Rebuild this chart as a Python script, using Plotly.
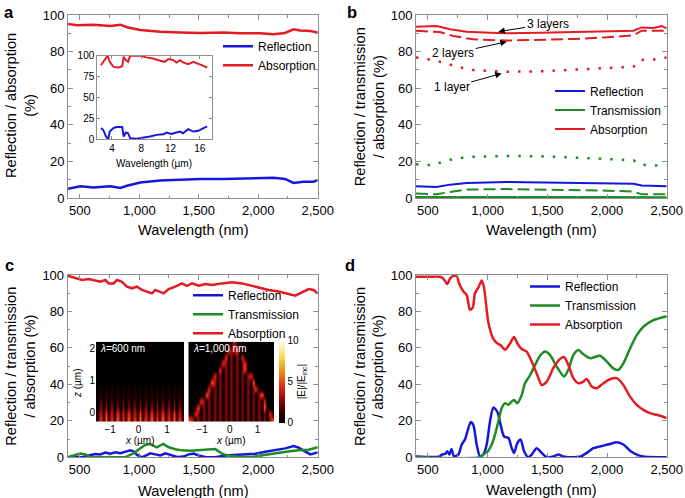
import plotly.graph_objects as go

# ---------------- data ----------------
wl_ticks = [500, 1000, 1500, 2000, 2500]
pct_ticks = [0, 20, 40, 60, 80, 100]

# panel a
a_abs_wl = [400, 476, 616, 756, 840, 896, 1008, 1176, 1344, 1512, 1708, 1848, 2016, 2128, 2226, 2296, 2352, 2436, 2500]
a_abs = [95.1, 94.4, 94.7, 94.0, 94.7, 93.3, 91.8, 90.9, 90.5, 90.2, 90.5, 90.0, 90.0, 89.5, 90.2, 92.2, 91.5, 91.3, 90.5]
a_ref_wl = [400, 504, 616, 756, 840, 896, 1008, 1176, 1344, 1512, 1708, 1848, 2016, 2128, 2226, 2296, 2380, 2464, 2500]
a_ref = [5.1, 6.4, 5.8, 6.4, 5.5, 6.7, 8.5, 9.5, 10.0, 10.4, 10.4, 10.5, 10.7, 11.1, 10.4, 8.2, 8.9, 8.9, 9.8]

# panel a inset (micrometres)
ins_abs_um = [2.5, 2.8, 3.2, 3.4, 3.7, 4.2, 4.9, 5.4, 5.6, 5.9, 6.2, 6.5, 6.9, 7.8, 8.7, 9.6, 10.6, 11.2, 11.7, 12.4, 12.8, 13.3, 13.7, 14.4, 15.1, 15.8, 16.5, 17.0]
ins_abs = [88.6, 92.7, 98.8, 100, 92.7, 86.6, 85.8, 87.4, 98.8, 94.7, 92.7, 100, 100, 100, 98, 96.7, 93.9, 92.7, 95.9, 94.7, 91.9, 94.7, 91.9, 89.8, 92.7, 90.7, 87.8, 85.8]
ins_ref_um = [2.5, 2.8, 3.2, 3.5, 3.7, 4.2, 4.6, 5.4, 5.6, 5.9, 6.2, 6.5, 7.4, 8.3, 9.2, 10.1, 11.0, 11.5, 12.1, 12.8, 13.3, 13.7, 14.4, 15.1, 15.8, 16.5, 17.0]
ins_ref = [13.4, 11.4, 3.3, 0, 9.3, 13.4, 14.6, 14.6, 3.3, 8.1, 7.3, 1.2, 0.8, 2, 3.3, 5.3, 6.1, 8.1, 6.5, 8.1, 9.3, 7.3, 12.2, 9.3, 10.2, 13.4, 15.4]
ins_ticks_x = [4, 8, 12, 16]
ins_ticks_y = [0, 25, 50, 75, 100]

# panel b
b_abs3_wl = [400, 573, 685, 825, 1020, 1160, 1439, 1718, 1998, 2221, 2291, 2389, 2459, 2500]
b_abs3 = [93.6, 94.0, 92.2, 90.9, 90.3, 90.0, 90.3, 90.7, 91.1, 91.4, 93.2, 92.9, 94.0, 92.7]
b_abs2_wl = [400, 601, 713, 880, 1160, 1439, 1718, 1998, 2221, 2291, 2389, 2500]
b_abs2 = [91.4, 90.7, 88.5, 86.7, 86.0, 86.3, 86.9, 87.8, 88.9, 91.4, 91.4, 91.4]
b_abs1_wl = [400, 545, 657, 741, 880, 1160, 1439, 1718, 1998, 2221, 2277, 2389, 2500]
b_abs1 = [76.8, 75.4, 73.5, 71.7, 69.9, 69.0, 69.2, 69.9, 71.0, 71.7, 75.4, 75.7, 76.8]
b_tra1_wl = [400, 545, 657, 825, 1160, 1439, 1718, 1998, 2221, 2277, 2389, 2500]
b_tra1 = [18.4, 17.9, 20.6, 22.4, 23.0, 22.8, 22.1, 21.4, 20.6, 18.2, 17.9, 17.5]
b_ref_wl = [400, 573, 685, 825, 1160, 1439, 1718, 1998, 2221, 2291, 2500]
b_ref = [6.4, 6.0, 7.3, 8.2, 8.8, 8.6, 8.4, 8.0, 7.8, 6.8, 6.4]
b_tra2_wl = [400, 573, 685, 825, 1160, 1439, 1718, 1998, 2221, 2291, 2500]
b_tra2 = [2.4, 2.0, 3.3, 4.6, 4.9, 4.7, 4.4, 4.0, 3.5, 2.0, 2.0]
b_tra3_wl = [400, 1000, 1500, 2000, 2500]
b_tra3 = [0.5, 0.6, 0.6, 0.5, 0.4]

# panel c
c_abs_wl = [400, 464, 520, 576, 632, 674, 716, 744, 786, 814, 856, 898, 940, 982, 1024, 1066, 1108, 1136, 1178, 1206, 1248, 1304, 1360, 1402, 1444, 1500, 1556, 1612, 1696, 1780, 1864, 1920, 2004, 2088, 2172, 2256, 2312, 2368, 2424, 2466, 2500]
c_abs = [99.6, 98.2, 97.3, 97.8, 96.7, 96.3, 97.3, 95.4, 95.4, 97.3, 96.3, 93.6, 92.7, 93.6, 91.8, 90.9, 89.9, 91.8, 90.9, 89.9, 92.3, 93.6, 95.4, 94.1, 95.4, 94.1, 95.1, 94.5, 95.4, 96.0, 95.4, 94.5, 93.1, 91.8, 90.9, 89.4, 88.7, 90.5, 92.3, 91.8, 89.9]
c_ref_wl = [400, 520, 576, 632, 674, 716, 758, 800, 842, 884, 926, 954, 982, 1024, 1052, 1094, 1136, 1178, 1220, 1262, 1318, 1374, 1416, 1458, 1500, 1556, 1640, 1724, 1808, 1892, 1976, 2060, 2144, 2228, 2298, 2340, 2396, 2438, 2500]
c_ref = [0, 0, 1.0, 1.8, 1.6, 2.6, 2.0, 2.7, 2.2, 3.1, 3.8, 3.1, 1.3, 0, 1.0, 2.2, 1.6, 1.0, 2.2, 1.3, 0.2, 0.4, 1.6, 2.0, 1.0, 0.2, 0, 1.0, 1.3, 1.6, 2.0, 3.1, 3.8, 4.9, 6.2, 5.3, 3.1, 1.6, 2.7]
c_tra_wl = [400, 464, 506, 548, 590, 880, 954, 1010, 1050, 1091, 1147, 1203, 1250, 1304, 1360, 1430, 1500, 1556, 1640, 1696, 1752, 1836, 1950, 2050, 2150, 2250, 2340, 2424, 2500]
c_tra = [0, 1.0, 2.0, 1.6, 0, 0, 2.2, 5.0, 6.8, 7.3, 5.5, 7.3, 5.5, 4.4, 3.8, 3.6, 3.8, 4.0, 4.5, 2.0, 0.8, 0.3, 0.2, 1.2, 2.3, 3.2, 3.8, 4.2, 5.5]

# panel c insets: |E|/|E_inc| maps, one digit per cell, rows from bottom (z=-0.25 um) to top (z=2.15 um)
field_600nm = [
    "1516151615161516151615161516151",
    "1415141514151415141514151415141",
    "0303030303030303030303030303030",
    "0202020202020202020202020202020",
    "0101010101010101010101010101010",
    "0101010101010101010101010101010",
    "0000000000000000000000000000000",
    "0000000000000000000000000000000",
    "0000000000000000000000000000000",
    "0000000000000000000000000000000",
    "0000000000000000000000000000000",
    "0000000000000000000000000000000",
    "0000000000000000000000000000000",
]
field_1000nm = [
    "5303030303030303030303030303035",
    "1153030303030303030303030303051",
    "0106030303030303030303030306100",
    "0000530303030303030303030305000",
    "0000006303030303030303030360000",
    "0000000503030303030303035000000",
    "0000000063030303030303060000000",
    "0000000005030303030303500000000",
    "0000000000050303030350000000000",
    "0000000000005303030350000000000",
    "0000000000000503030500000000000",
    "0000000000000053350000000000000",
    "0000000000000011411000000000000",
]
field_ticks_x = [-1, 0, 1]
field_ticks_z = [0, 1, 2]
field_cbar_ticks = [0, 5, 10]

# panel d
d_abs_wl = [400, 500, 600, 629, 662, 685, 713, 741, 763, 797, 825, 852, 875, 894, 922, 950, 970, 1006, 1048, 1081, 1109, 1146, 1188, 1221, 1249, 1285, 1327, 1369, 1411, 1453, 1495, 1551, 1607, 1640, 1676, 1718, 1760, 1802, 1830, 1872, 1914, 1970, 2025, 2081, 2137, 2193, 2249, 2305, 2361, 2417, 2500]
d_abs = [99, 99, 99, 98, 95, 98, 99.5, 99.5, 95, 91, 89, 81, 82, 90, 93, 97, 93, 74, 65, 62.5, 61.5, 59, 62.5, 66, 62.5, 59.4, 58, 52.5, 46, 39.7, 41.5, 49, 54, 55, 50.6, 43.4, 40.6, 41.5, 43, 38.8, 37.9, 40.6, 42.8, 43.4, 39.7, 33.3, 28.8, 26, 24.2, 23.3, 21.5]
d_tra_wl = [400, 936, 964, 1006, 1034, 1062, 1090, 1118, 1146, 1174, 1202, 1221, 1249, 1285, 1313, 1355, 1397, 1439, 1481, 1523, 1579, 1640, 1676, 1718, 1760, 1802, 1858, 1942, 1998, 2053, 2095, 2137, 2193, 2249, 2305, 2388, 2500]
d_tra = [0, 0, 1.5, 3.6, 7, 12.4, 19.7, 27, 29.7, 28.8, 30.6, 31.5, 29.7, 34, 40.6, 45, 50.6, 55.7, 58, 56, 49.7, 44.3, 48, 56, 58.8, 56.5, 54.3, 55.7, 52.5, 48.8, 47.9, 51.5, 59.7, 67, 71.6, 75.2, 77.4]
d_ref_wl = [400, 600, 615, 643, 662, 679, 697, 718, 755, 783, 810, 830, 858, 880, 908, 936, 964, 992, 1020, 1048, 1081, 1109, 1137, 1174, 1202, 1221, 1249, 1277, 1305, 1341, 1369, 1411, 1453, 1495, 1551, 1593, 1634, 1718, 1774, 1830, 1886, 1970, 2025, 2081, 2137, 2193, 2249, 2305, 2500]
d_ref = [0.5, 0.5, 1.5, 1.8, 3.3, 1.5, 4.5, 0.5, 1.5, 7, 9.7, 14, 19.3, 17.8, 7, 0.5, 1.5, 7, 19.7, 27.3, 25, 17.8, 11.5, 10.6, 5, 2.4, 7.8, 9.7, 3.3, 0, 1.5, 5, 2.4, 0, 0.5, 1.5, 0.5, 0, 0.3, 2.4, 5, 6.4, 7.3, 8.2, 7, 3.6, 1.5, 0.4, 0]

# ---------------- styling ----------------
W, H = 685, 498
BLUE = '#1717dc'
RED = '#e41b23'
GREEN = '#1e8c24'
GRAY = '#8f8f8f'
FONT = 'Liberation Sans, Arial, Helvetica, sans-serif'


def px(p):
    return p / W


def py(p):
    return 1 - p / H


def parse(rows):
    return [[int(c) for c in r[:31].ljust(31, '0')] for r in rows]


fig = go.Figure()

# panel a
fig.add_trace(go.Scatter(x=a_ref_wl, y=a_ref, name='Reflection', mode='lines',
                         line=dict(color=BLUE, width=2.5), xaxis='x', yaxis='y', legend='legend'))
fig.add_trace(go.Scatter(x=a_abs_wl, y=a_abs, name='Absorption', mode='lines',
                         line=dict(color=RED, width=2.5), xaxis='x', yaxis='y', legend='legend'))
fig.add_trace(go.Scatter(x=ins_ref_um, y=ins_ref, mode='lines', showlegend=False,
                         line=dict(color=BLUE, width=2), xaxis='x5', yaxis='y5'))
fig.add_trace(go.Scatter(x=ins_abs_um, y=ins_abs, mode='lines', showlegend=False,
                         line=dict(color=RED, width=2), xaxis='x5', yaxis='y5'))

# panel b
fig.add_trace(go.Scatter(x=b_ref_wl, y=b_ref, name='Reflection', mode='lines',
                         line=dict(color=BLUE, width=2), xaxis='x2', yaxis='y2', legend='legend2'))
fig.add_trace(go.Scatter(x=b_tra3_wl, y=b_tra3, name='Transmission', mode='lines',
                         line=dict(color=GREEN, width=2), xaxis='x2', yaxis='y2', legend='legend2'))
fig.add_trace(go.Scatter(x=b_abs3_wl, y=b_abs3, name='Absorption', mode='lines',
                         line=dict(color=RED, width=2), xaxis='x2', yaxis='y2', legend='legend2'))
fig.add_trace(go.Scatter(x=b_abs2_wl, y=b_abs2, mode='lines', showlegend=False,
                         line=dict(color=RED, width=2, dash='12px,5px'), xaxis='x2', yaxis='y2'))
fig.add_trace(go.Scatter(x=b_tra2_wl, y=b_tra2, mode='lines', showlegend=False,
                         line=dict(color=GREEN, width=2, dash='12px,5px'), xaxis='x2', yaxis='y2'))
fig.add_trace(go.Scatter(x=b_abs1_wl, y=b_abs1, mode='lines', showlegend=False,
                         line=dict(color=RED, width=2.5, dash='2.5px,9px'), xaxis='x2', yaxis='y2'))
fig.add_trace(go.Scatter(x=b_tra1_wl, y=b_tra1, mode='lines', showlegend=False,
                         line=dict(color=GREEN, width=2.5, dash='2.5px,9px'), xaxis='x2', yaxis='y2'))

# panel c
fig.add_trace(go.Scatter(x=c_ref_wl, y=c_ref, name='Reflection', mode='lines',
                         line=dict(color=BLUE, width=2.5), xaxis='x3', yaxis='y3', legend='legend3'))
fig.add_trace(go.Scatter(x=c_tra_wl, y=c_tra, name='Transmission', mode='lines',
                         line=dict(color=GREEN, width=2.5), xaxis='x3', yaxis='y3', legend='legend3'))
fig.add_trace(go.Scatter(x=c_abs_wl, y=c_abs, name='Absorption', mode='lines',
                         line=dict(color=RED, width=2.5), xaxis='x3', yaxis='y3', legend='legend3'))

hot = [[0, '#000000'], [0.12, '#2a0000'], [0.3, '#9a0c0c'], [0.45, '#e02a12'],
       [0.62, '#f08a1c'], [0.8, '#f8d850'], [1, '#fffff2']]
fig.add_trace(go.Heatmap(z=parse(field_600nm), x0=-1.45, dx=0.1, y0=-0.25, dy=0.2,
                         zmin=0, zmax=10, colorscale=hot, zsmooth='best', showscale=False,
                         xaxis='x6', yaxis='y6', hoverinfo='skip'))
fig.add_trace(go.Heatmap(z=parse(field_1000nm), x0=-1.45, dx=0.1, y0=-0.25, dy=0.2,
                         zmin=0, zmax=10, colorscale=hot, zsmooth='best', showscale=True,
                         xaxis='x7', yaxis='y7', hoverinfo='skip',
                         colorbar=dict(x=px(279.3), xanchor='left', xpad=0,
                                       y=py(381.5), yanchor='middle', ypad=0,
                                       len=81.6, lenmode='pixels', thickness=6.4,
                                       thicknessmode='pixels', outlinewidth=0,
                                       tickvals=field_cbar_ticks, ticks='',
                                       tickfont=dict(size=10, color='black', family=FONT),
                                       title=dict(text='|E|/|E<sub>inc</sub>|', side='right',
                                                  font=dict(size=10, color='black', family=FONT)))))

# panel d
fig.add_trace(go.Scatter(x=d_ref_wl, y=d_ref, name='Reflection', mode='lines',
                         line=dict(color=BLUE, width=2.5, shape='spline', smoothing=0.7),
                         xaxis='x4', yaxis='y4', legend='legend4'))
fig.add_trace(go.Scatter(x=d_tra_wl, y=d_tra, name='Transmission', mode='lines',
                         line=dict(color=GREEN, width=2.5, shape='spline', smoothing=0.7),
                         xaxis='x4', yaxis='y4', legend='legend4'))
fig.add_trace(go.Scatter(x=d_abs_wl, y=d_abs, name='Absorption', mode='lines',
                         line=dict(color=RED, width=2.5, shape='spline', smoothing=0.7),
                         xaxis='x4', yaxis='y4', legend='legend4'))

# ---------------- axes ----------------
def main_x(l, r, anchor):
    return dict(domain=[px(l), px(r)], anchor=anchor, range=[400, 2500], automargin=False,
                tickvals=wl_ticks, tickformat=',', ticks='inside', ticklen=4.5,
                tickcolor=GRAY, tickwidth=1, showline=True, linecolor=GRAY, linewidth=1,
                mirror='allticks', showgrid=False, zeroline=False,
                minor=dict(dtick=250, tick0=500, ticks='inside', ticklen=2.5, tickcolor=GRAY),
                tickfont=dict(size=13, color='black', family=FONT))


def main_y(t, b, anchor):
    return dict(domain=[py(b), py(t)], anchor=anchor, range=[0, 100], automargin=False,
                tickvals=pct_ticks, ticks='inside', ticklen=4.5,
                tickcolor=GRAY, tickwidth=1, showline=True, linecolor=GRAY, linewidth=1,
                mirror='allticks', showgrid=False, zeroline=False,
                minor=dict(dtick=10, tick0=0, ticks='inside', ticklen=2.5, tickcolor=GRAY),
                tickfont=dict(size=13, color='black', family=FONT))


small = dict(size=10, color='black', family=FONT)

fig.update_layout(
    template='none',
    xaxis=main_x(68, 317.7, 'y'), yaxis=main_y(15, 198, 'x'),
    xaxis2=main_x(416, 666.7, 'y2'), yaxis2=main_y(15, 198, 'x2'),
    xaxis3=main_x(67.7, 317.7, 'y3'), yaxis3=main_y(275, 457.3, 'x3'),
    xaxis4=main_x(416, 666.7, 'y4'), yaxis4=main_y(275, 457.3, 'x4'),
    xaxis5=dict(domain=[px(97.3), px(212.3)], anchor='y5', range=[2, 17.7], automargin=False,
                tickvals=ins_ticks_x, ticks='inside', ticklen=3, tickcolor=GRAY,
                showline=True, linecolor=GRAY, mirror='allticks', showgrid=False,
                zeroline=False, tickfont=small),
    yaxis5=dict(domain=[py(139.3), py(55.7)], anchor='x5', range=[0, 100], automargin=False,
                tickvals=ins_ticks_y, ticks='inside', ticklen=3, tickcolor=GRAY,
                showline=True, linecolor=GRAY, mirror='allticks', showgrid=False,
                zeroline=False, tickfont=small),
    xaxis6=dict(domain=[px(96), px(184)], anchor='y6', range=[-1.5, 1.6], automargin=False,
                tickvals=field_ticks_x, ticks='', showline=False, showgrid=False,
                zeroline=False, tickfont=small),
    yaxis6=dict(domain=[py(421.7), py(341.7)], anchor='x6', range=[-0.3, 2.23], automargin=False,
                tickvals=field_ticks_z, ticks='', showline=False, showgrid=False,
                zeroline=False, tickfont=small),
    xaxis7=dict(domain=[px(188.3), px(274)], anchor='y7', range=[-1.5, 1.6], automargin=False,
                tickvals=field_ticks_x, ticks='', showline=False, showgrid=False,
                zeroline=False, tickfont=small),
    yaxis7=dict(domain=[py(421.7), py(341.7)], anchor='x7', range=[-0.3, 2.23], automargin=False,
                tickvals=field_ticks_z, ticks='', showline=False, showgrid=False,
                zeroline=False, showticklabels=False),
)

legend_common = dict(xanchor='left', yanchor='top', bgcolor='rgba(0,0,0,0)',
                     font=dict(size=12, color='black', family=FONT), itemwidth=30,
                     tracegroupgap=0, borderwidth=0)
fig.update_layout(
    legend=dict(x=px(218), y=py(31.8), **legend_common),
    legend2=dict(x=px(550), y=py(76.4), **legend_common),
    legend3=dict(x=px(188), y=py(280.8), **legend_common),
    legend4=dict(x=px(525), y=py(272), **legend_common),
)

title_font = dict(size=14.6, color='black', family=FONT)
ann = []


def add_text(text, x, y, font, xref='paper', yref='paper', **kw):
    d = dict(text=text, x=x, y=y, xref=xref, yref=yref, showarrow=False,
             xanchor='center', yanchor='middle', font=font)
    d.update(kw)
    ann.append(d)


# axis titles
for xc, yc in [(193, 230), (541.7, 230), (193.3, 490.5), (541.7, 490)]:
    add_text('Wavelength (nm)', px(xc), py(yc), title_font)
add_text('Reflection / absorption<br>(%)', px(21), py(106), title_font, textangle=-90)
for xc, yc in [(369.2, 107), (21, 366.7), (369.2, 366.7)]:
    add_text('Reflection / transmission<br>/ absorption (%)', px(xc), py(yc), title_font,
             textangle=-90)
# inset titles
add_text('Wavelength (µm)', px(154.3), py(163.3), small)
for xc in [140, 231]:
    add_text('<i>x</i> (µm)', px(xc), py(440), small)
add_text('<i>z</i> (µm)', px(77), py(383), small, textangle=-90)
add_text('<i>λ</i>=600 nm', -1.42, 2.02, dict(size=10, color='white', family=FONT),
         xref='x6', yref='y6', xanchor='left')
add_text('<i>λ</i>=1,000 nm', -1.42, 2.02, dict(size=10, color='white', family=FONT),
         xref='x7', yref='y7', xanchor='left')
# layer labels in b
arrow = dict(showarrow=True, arrowhead=2, arrowsize=1.3, arrowwidth=1, arrowcolor='black',
             xref='x2', yref='y2', axref='x2', ayref='y2', standoff=0,
             xanchor='center', yanchor='middle',
             font=dict(size=12, color='black', family=FONT))
ann.append(dict(text='3 layers', x=1089, y=90.9, ax=1503, ay=95.1, **arrow))
ann.append(dict(text='2 layers', x=1160, y=85.4, ax=712, ay=79, **arrow))
ann.append(dict(text='1 layer', x=1118, y=68.1, ax=699, ay=60.4, **arrow))
# panel letters
for t, xc, yc in [('a', 8.5, 0.5), ('b', 351.5, 0.5), ('c', 9, 254), ('d', 350, 254)]:
    add_text('<b>%s</b>' % t, px(xc), py(yc), dict(size=16.5, color='black', family=FONT),
             yanchor='top')

fig.update_layout(annotations=ann, width=W, height=H,
                  margin=dict(l=0, r=0, t=0, b=0, pad=0), paper_bgcolor='white',
                  plot_bgcolor='white', hovermode=False,
                  font=dict(family=FONT, color='black'))

fig.write_html('out.html', config={'displayModeBar': False},
               post_script="document.body.style.margin='0';")
